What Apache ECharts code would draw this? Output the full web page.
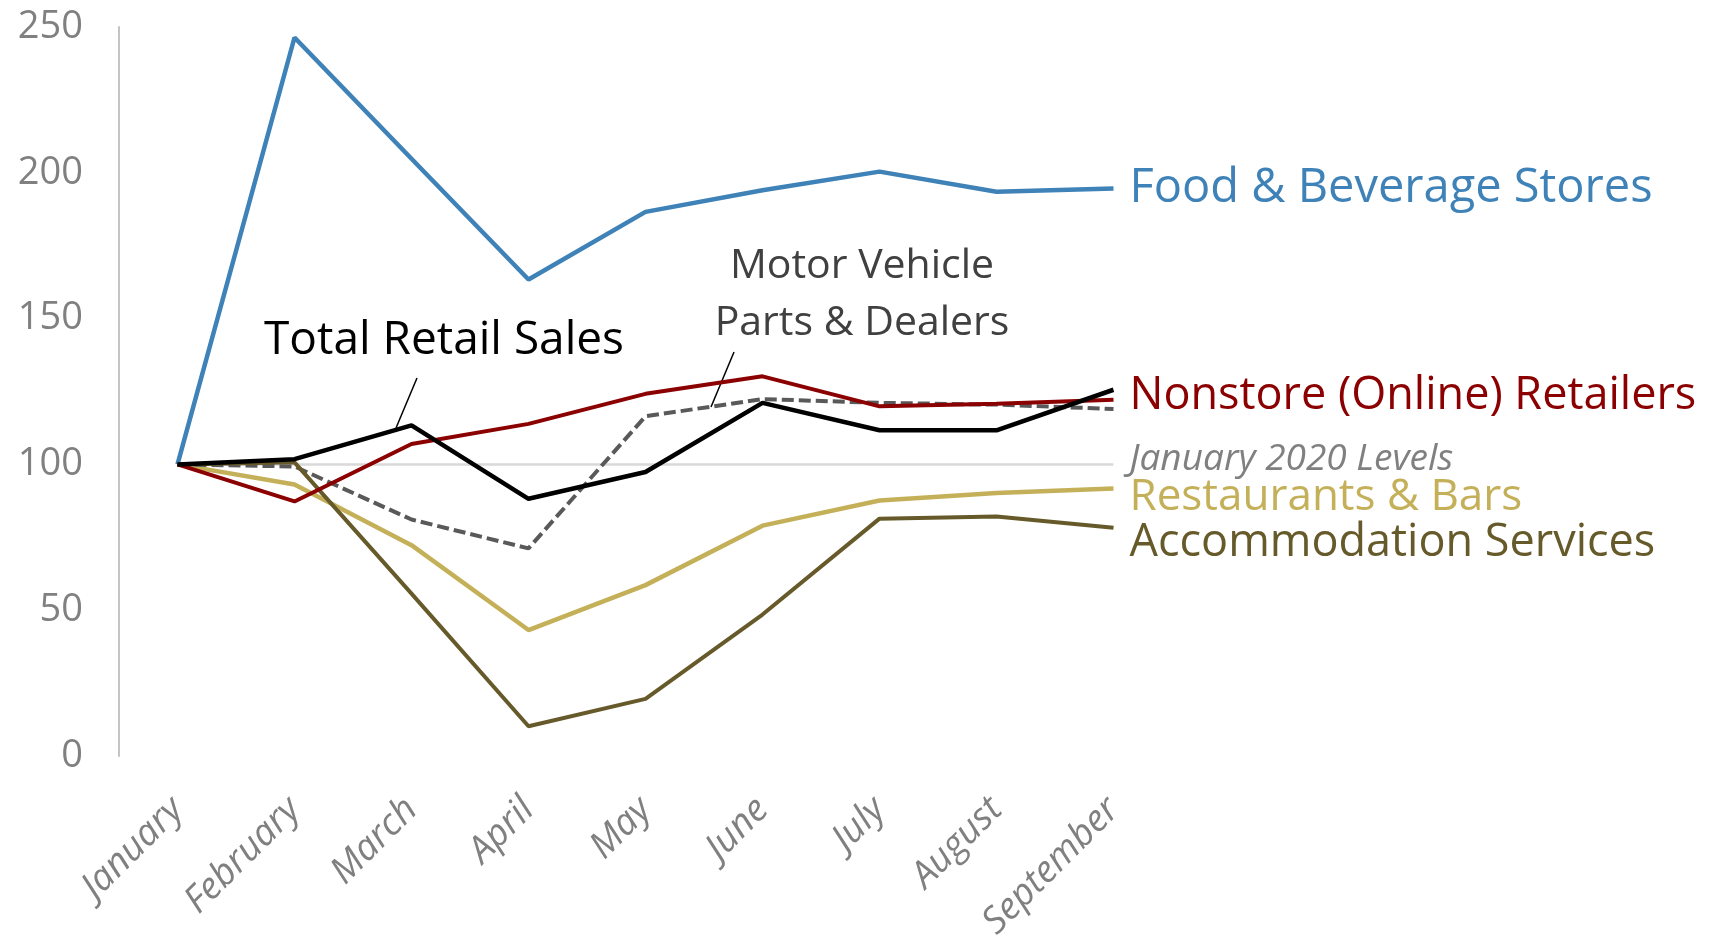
<!DOCTYPE html>
<html>
<head>
<meta charset="utf-8">
<title>Retail sales by sector, 2020</title>
<script src="https://cdn.jsdelivr.net/npm/echarts@6/dist/echarts.min.js"></script>
<style>
    html, body { margin: 0; padding: 0; background: #fff; }
    #main { width: 1713px; height: 936px; }
</style>
</head>
<body>
<div id="main"></div>
<script>
// 月份
var months = ['January', 'February', 'March', 'April', 'May', 'June', 'July', 'August', 'September'];

// 各行业指数 (2020年1月 = 100)
var foodBeverage = [100, 246.4, 204.8, 163.4, 186.6, 194.0, 200.4, 193.5, 194.6];
var totalRetail = [100, 101.8, 113.4, 88.2, 97.4, 121.1, 111.7, 111.7, 125.6];
var nonstore = [100, 87.3, 107.0, 113.9, 124.2, 130.2, 119.9, 120.8, 122.2];
var motorVehicle = [100, 99.3, 81.1, 71.2, 116.5, 122.4, 121.1, 120.5, 119.0];
var restaurants = [100, 93.1, 72.3, 43.2, 58.6, 79.0, 87.6, 90.2, 91.7];
var accommodation = [100, 100.7, 55.7, 10.2, 19.6, 48.5, 81.4, 82.1, 78.3];
var janLevels = [100, 100, 100, 100, 100, 100, 100, 100, 100];

// y轴刻度
var yMin = 0, yMax = 250, yStep = 50;

var FONT = '"Open Sans"';

var myChart = echarts.init(document.getElementById('main'));

function endLabel(text, color, size, dy, italic) {
    return {
        show: true,
        formatter: text,
        color: color,
        fontSize: size,
        fontFamily: FONT,
        fontStyle: italic ? 'italic' : 'normal',
        distance: 16,
        offset: [0, dy]
    };
}

var option = {
    animation: false,
    grid: { left: 119, right: 541, top: 27, bottom: 180, outerBoundsMode: 'none', containLabel: false },
    xAxis: {
        type: 'category',
        data: months,
        boundaryGap: true,
        axisLine: { show: false },
        axisTick: { show: false },
        axisLabel: {
            rotate: 45,
            margin: 48,
            color: '#808080',
            fontSize: 37,
            fontStyle: 'italic',
            fontFamily: FONT
        }
    },
    yAxis: {
        type: 'value',
        min: yMin,
        max: yMax,
        interval: yStep,
        axisLine: { show: true, lineStyle: { color: '#c4c4c4', width: 2 } },
        axisTick: { show: false },
        splitLine: { show: false },
        axisLabel: { color: '#808080', fontSize: 38, fontFamily: FONT, margin: 36 }
    },
    series: [
        {
            name: 'January 2020 Levels', type: 'line', data: janLevels, symbol: 'none', z: 1,
            lineStyle: { color: '#d9d9d9', width: 2.5 },
            endLabel: endLabel('January 2020 Levels', '#808080', 37, -5, true)
        },
        {
            name: 'Food & Beverage Stores', type: 'line', data: foodBeverage, symbol: 'none', z: 3,
            lineStyle: { color: '#3e82b8', width: 4.5 },
            endLabel: endLabel('Food & Beverage Stores', '#3e82b8', 47, 0)
        },
        {
            name: 'Restaurants & Bars', type: 'line', data: restaurants, symbol: 'none', z: 3,
            lineStyle: { color: '#c5b05a', width: 4.5 },
            endLabel: endLabel('Restaurants & Bars', '#c5b05a', 44, 9)
        },
        {
            name: 'Accommodation Services', type: 'line', data: accommodation, symbol: 'none', z: 4,
            lineStyle: { color: '#665a2a', width: 4 },
            endLabel: endLabel('Accommodation Services', '#665a2a', 45, 16)
        },
        {
            name: 'Motor Vehicle Parts & Dealers', type: 'line', data: motorVehicle, symbol: 'none', z: 3,
            lineStyle: { color: '#595959', width: 4, type: [12, 5] }
        },
        {
            name: 'Nonstore (Online) Retailers', type: 'line', data: nonstore, symbol: 'none', z: 4,
            lineStyle: { color: '#8b0000', width: 4 },
            endLabel: endLabel('Nonstore (Online) Retailers', '#8b0000', 45, -3)
        },
        {
            name: 'Total Retail Sales', type: 'line', data: totalRetail, symbol: 'none', z: 5,
            lineStyle: { color: '#000000', width: 4.5 }
        }
    ],
    // 注释文字和引线
    graphic: [
        {
            type: 'text', left: 264, top: 318,
            style: { text: 'Total Retail Sales', fill: '#000', font: '46px ' + FONT }
        },
        {
            type: 'line', shape: { x1: 417, y1: 378, x2: 396, y2: 428 },
            style: { stroke: '#000', lineWidth: 1.5 }
        },
        {
            type: 'text', x: 862, y: 238,
            style: {
                text: 'Motor Vehicle\nParts & Dealers', fill: '#404040', font: '41px ' + FONT,
                align: 'center', lineHeight: 57
            }
        },
        {
            type: 'line', shape: { x1: 734, y1: 352, x2: 711, y2: 407 },
            style: { stroke: '#000', lineWidth: 1.5 }
        }
    ]
};

myChart.setOption(option);
</script>
</body>
</html>
